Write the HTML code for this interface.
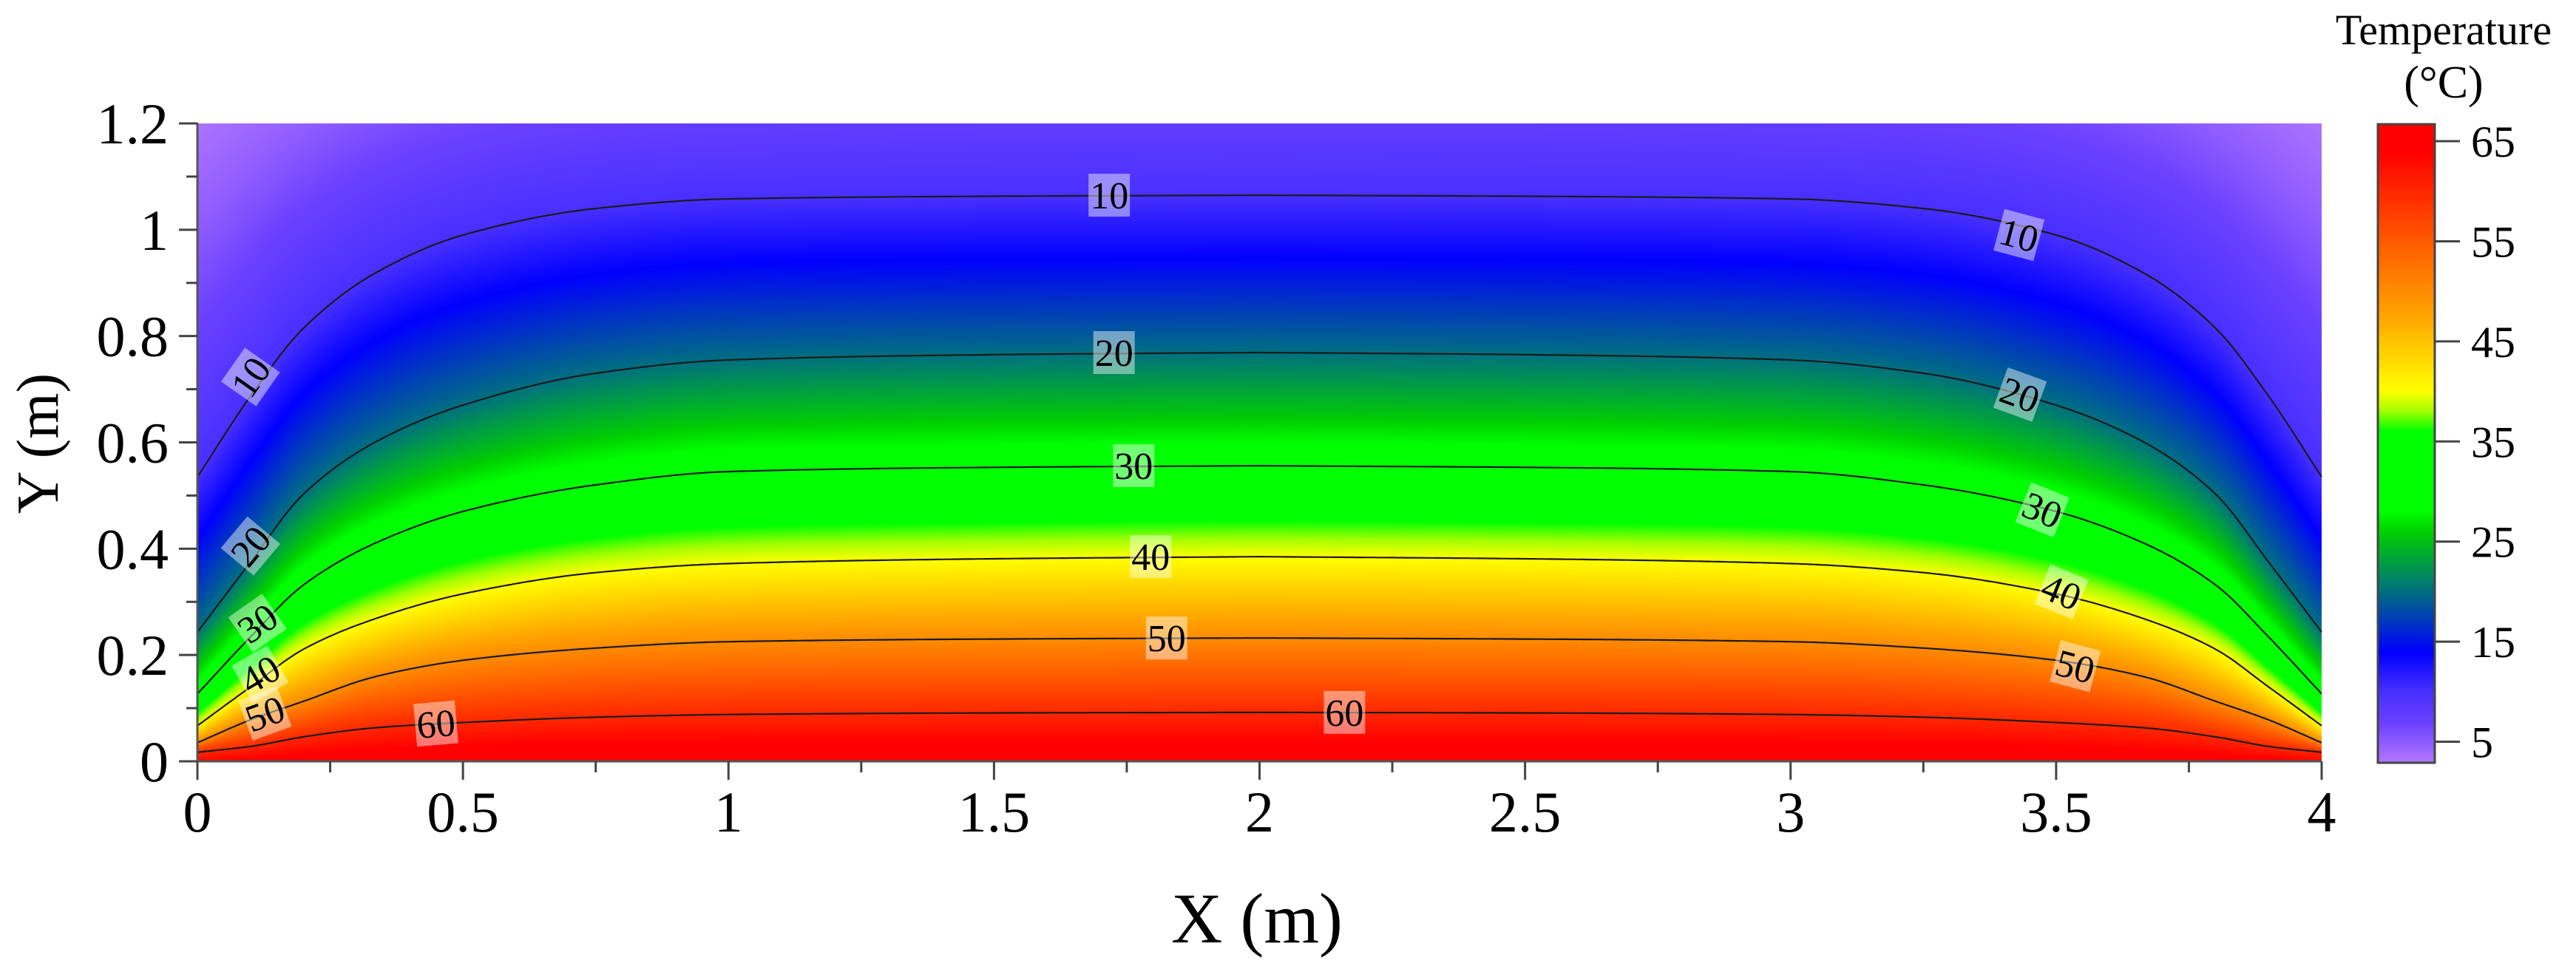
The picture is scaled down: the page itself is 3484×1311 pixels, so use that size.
<!DOCTYPE html>
<html><head><meta charset="utf-8">
<style>
html,body{margin:0;padding:0;background:#fff;}
#wrap{position:relative;width:3484px;height:1311px;overflow:hidden;font-family:"Liberation Serif",serif;}
canvas{position:absolute;}
svg{position:absolute;left:0;top:0;}
svg text{font-family:"Liberation Serif",serif;}
</style></head>
<body>
<div id="wrap">
<canvas id="field" width="2873" height="863" style="left:267px;top:167px;"></canvas>
<canvas id="cbar" width="77" height="864" style="left:3216px;top:168px;"></canvas>
<svg id="svg" width="3484" height="1311" xmlns="http://www.w3.org/2000/svg"></svg>
</div>
<script>
// ---- data ----
const dKnots = [0, 0.1, 0.2, 0.334, 0.5, 0.75, 1.0, 1.5, 2.0];           // distance from side wall (m)
const levelTemps = [67, 65, 60, 50, 40, 30, 20, 10, 5, 2];           // °C
const h67 = [-0.05,-0.05,-0.05,-0.05,-0.05,-0.05,-0.05,-0.05,-0.05];
const h65 = [-0.01,0.0,0.005,0.01,0.015,0.02,0.02,0.02,0.02];
const h60 = [0.017,0.028,0.046,0.063,0.073,0.083,0.088,0.091,0.092];
const h50 = [0.035,0.078,0.113,0.159,0.19,0.213,0.225,0.230,0.232];
const h40 = [0.067,0.14,0.211,0.268,0.315,0.355,0.372,0.381,0.385];
const h30 = [0.127,0.234,0.332,0.41,0.47,0.52,0.545,0.553,0.556];
const h20 = [0.243,0.375,0.503,0.60,0.67,0.73,0.755,0.765,0.769];
const h10 = [0.535,0.687,0.815,0.918,0.99,1.04,1.058,1.063,1.065];
const h5  = [1.0,1.1,1.18,1.25,1.3,1.34,1.35,1.36,1.36];
const h2  = [1.35,1.42,1.47,1.5,1.54,1.57,1.58,1.59,1.59];
const levelHeights = [h67,h65,h60,h50,h40,h30,h20,h10,h5,h2];
const contourLevels = [60, 50, 40, 30, 20, 10];
const labelText = ["10","10","10","20","20","20","30","30","30","40","40","40","50","50","50","60","60"];
const labelX = [1.717,3.43,0.10, 1.726,3.432,0.10, 1.763,3.474,0.113, 1.795,3.51,0.118, 1.825,3.536,0.127, 0.449,2.16];
const labelY = [1.065,0.99,0.723, 0.769,0.69,0.405, 0.556,0.473,0.26, 0.385,0.319,0.164, 0.232,0.179,0.09, 0.071,0.092];
const labelRot = [0,15,-55, 0,20,-50, 0,22,-35, 0,22,-30, 0,15,-20, -5,0];
const xTicks = [0,0.5,1,1.5,2,2.5,3,3.5,4];
const xTickLabels = ["0","0.5","1","1.5","2","2.5","3","3.5","4"];
const yTicks = [0,0.2,0.4,0.6,0.8,1,1.2];
const yTickLabels = ["0","0.2","0.4","0.6","0.8","1","1.2"];
const cbTicks = [5,15,25,35,45,55,65];
const cbMin = 2.9, cbMax = 66.7;
const cmapT = [2.9,7,10,14,20,26,28,36,38,40,44,48,52,56,60,64,67];
const cmapC = ["#b478ff","#6a40ff","#4830ff","#0000ff","#007080","#00d000","#00ff00","#00ff00","#a0ff00","#ffff00","#ffd000","#ffa000","#ff7800","#ff5000","#ff2800","#ff0000","#ff0000"];

// ---- scales ----
const PL=267, PR=3140, PT=167, PB=1030;
const xs = x => PL + x/4*(PR-PL);
const ys = y => PB - y/1.2*(PB-PT);
const cbY = t => 168 + (cbMax - t)/(cbMax-cbMin)*864;

// monotone cubic (Fritsch-Carlson)
function mono(xa, ya){
  const n=xa.length, dx=[], s=[], m=new Array(n);
  for(let i=0;i<n-1;i++){dx.push(xa[i+1]-xa[i]);s.push((ya[i+1]-ya[i])/dx[i]);}
  m[0]=s[0]; m[n-1]=s[n-2];
  for(let i=1;i<n-1;i++){ m[i]=(s[i-1]*s[i]<=0)?0:3*(dx[i-1]+dx[i])/((2*dx[i]+dx[i-1])/s[i-1]+(dx[i]+2*dx[i-1])/s[i]); }
  return function(x){
    if(x<=xa[0]) return ya[0]; if(x>=xa[n-1]) return ya[n-1];
    let i=0; while(x>xa[i+1]) i++;
    const h=dx[i], t=(x-xa[i])/h, t2=t*t, t3=t2*t;
    return (2*t3-3*t2+1)*ya[i]+(t3-2*t2+t)*h*m[i]+(-2*t3+3*t2)*ya[i+1]+(t3-t2)*h*m[i+1];
  };
}
const levelFns = levelHeights.map(h=>mono(dKnots,h));
function levelH(k, d){ return levelFns[k](Math.min(d,2)); }
function hexRgb(h){return [parseInt(h.slice(1,3),16),parseInt(h.slice(3,5),16),parseInt(h.slice(5,7),16)];}
const cmapRGB = cmapC.map(hexRgb);
function color(t){
  if(t<=cmapT[0]) return cmapRGB[0];
  for(let i=1;i<cmapT.length;i++){ if(t<=cmapT[i]){const f=(t-cmapT[i-1])/(cmapT[i]-cmapT[i-1]);const a=cmapRGB[i-1],b=cmapRGB[i];return [a[0]+f*(b[0]-a[0]),a[1]+f*(b[1]-a[1]),a[2]+f*(b[2]-a[2])];} }
  return cmapRGB[cmapRGB.length-1];
}

// ---- field ----
(function(){
  const cv=document.getElementById('field'), ctx=cv.getContext('2d');
  const W=cv.width, H=cv.height, img=ctx.createImageData(W,H);
  for(let px=0;px<W;px++){
    const x=(px+0.5)/W*4, d=Math.min(x,4-x);
    const hs=levelTemps.map((t,k)=>levelH(k,d));
    for(let py=0;py<H;py++){
      const y=1.2-(py+0.5)/H*1.2;
      let T=levelTemps[levelTemps.length-1];
      for(let k=1;k<hs.length;k++){
        if(y<=hs[k]){const f=(y-hs[k-1])/(hs[k]-hs[k-1]);T=levelTemps[k-1]+f*(levelTemps[k]-levelTemps[k-1]);break;}
      }
      const c=color(T), i=(py*W+px)*4;
      img.data[i]=c[0];img.data[i+1]=c[1];img.data[i+2]=c[2];img.data[i+3]=255;
    }
  }
  ctx.putImageData(img,0,0);
  const cb=document.getElementById('cbar'), c2=cb.getContext('2d');
  for(let py=0;py<cb.height;py++){
    const t=cbMax-(py+0.5)/cb.height*(cbMax-cbMin), c=color(t);
    c2.fillStyle=`rgb(${c[0]|0},${c[1]|0},${c[2]|0})`; c2.fillRect(0,py,cb.width,1);
  }
})();

// ---- svg ----
const NS="http://www.w3.org/2000/svg", svg=document.getElementById('svg');
function mk(tag, attrs, parent){const e=document.createElementNS(NS,tag);for(const k in attrs)e.setAttribute(k,attrs[k]);(parent||svg).appendChild(e);return e;}

contourLevels.forEach(L=>{
  const k=levelTemps.indexOf(L); let pts=[];
  for(let i=0;i<=800;i++){const x=i/800*4,d=Math.min(x,4-x);pts.push(xs(x).toFixed(1)+","+ys(levelH(k,d)).toFixed(1));}
  const p=mk('polyline',{points:pts.join(' '),fill:'none',stroke:'#1a1a1a','stroke-width':2.2});
  
  
});
labelText.forEach((t,i)=>{
  const g=mk('g',{transform:`translate(${xs(labelX[i]).toFixed(1)},${ys(labelY[i]).toFixed(1)}) rotate(${labelRot[i]})`});
  
  
  mk('rect',{x:-28,y:-29,width:56,height:58,fill:'#ffffff','fill-opacity':0.45},g);
  const tx=mk('text',{x:0,y:18,'text-anchor':'middle','font-size':52,fill:'#000'},g);
  tx.textContent=t;
});
const ax=mk('line',{x1:PL,y1:PT-1,x2:PL,y2:PB+25,stroke:'#555','stroke-width':3});
 
const axb=mk('line',{x1:PL,y1:PB,x2:PR,y2:PB,stroke:'#555','stroke-width':3});
 
for(let i=0;i<=16;i++){
  const x=i*0.25, major=i%2===0;
  const tl=mk('line',{x1:xs(x),y1:PB,x2:xs(x),y2:PB+(major?25:15),stroke:'#444','stroke-width':3});
   
}
xTicks.forEach((x,i)=>{
  const t=mk('text',{x:xs(x),y:1125,'text-anchor':'middle','font-size':78});
  t.textContent=xTickLabels[i];
   
});
for(let i=0;i<=12;i++){
  const y=i*0.1, major=i%2===0;
  const tl=mk('line',{x1:PL,y1:ys(y),x2:PL-(major?25:15),y2:ys(y),stroke:'#444','stroke-width':3});
   
}
yTicks.forEach((y,i)=>{
  const t=mk('text',{x:228,y:ys(y)+27,'text-anchor':'end','font-size':78});
  t.textContent=yTickLabels[i];
   
});
const xt=mk('text',{x:1700,y:1275,'text-anchor':'middle','font-size':96});
xt.textContent='X (m)';  
const yt=mk('text',{x:0,y:0,'text-anchor':'middle','font-size':80,transform:'translate(78,600) rotate(-90)'});
yt.textContent='Y (m)';  
const cbr=mk('rect',{x:3216,y:168,width:77,height:864,fill:'none',stroke:'#444','stroke-width':3});
 
cbTicks.forEach(v=>{
  const l=mk('line',{x1:3293,y1:cbY(v),x2:3327,y2:cbY(v),stroke:'#444','stroke-width':3});
   
  const t=mk('text',{x:3342,y:cbY(v)+21,'font-size':60});
  t.textContent=String(v);
   
});
const ct1=mk('text',{x:3305,y:60,'text-anchor':'middle','font-size':58});
ct1.textContent='Temperature';  
const ct2=mk('text',{x:3305,y:132,'text-anchor':'middle','font-size':62});
ct2.textContent='(°C)';  
</script>
</body></html>
